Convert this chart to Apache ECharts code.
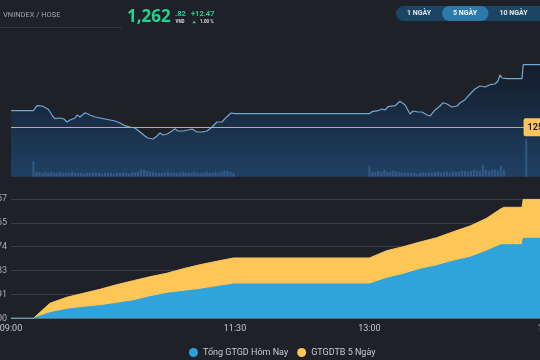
<!DOCTYPE html>
<html>
<head>
<meta charset="utf-8">
<script src="https://cdn.jsdelivr.net/npm/echarts@6/dist/echarts.min.js"></script>
<style>html,body{margin:0;padding:0;background:#1f2128;}#c{width:540px;height:360px;}</style>
</head>
<body>
<div id="c"></div>
<script>
// ---- data ----
const indexName = 'VNINDEX / HOSE';
const lastPriceInt = '1,262';
const lastPriceDec = '.82';
const changeText = '+12.47';
const changePct = '1.00 %';
const refPrice = 1250.35;
const rangeButtons = ['1 NGÀY', '5 NGÀY', '10 NGÀY'];

// price line: minutes after 09:00, index value
const priceTimes = [0,15,17.4,20.8,24.8,27.5,29.5,32.8,35.5,37.5,39.5,42.9,44.2,46.2,49.6,52.9,56.3,59.6,62.9,66.3,69.6,73.0,76.3,79.7,83.0,86.4,89.7,91.7,95.1,97.8,99.8,101.8,104.5,107.8,109.8,111.8,115.2,118.5,121.2,124.6,127.9,131.3,134.6,137.9,141.3,143.9,147.3,150,240,241.7,245.8,248.4,250.4,252.5,257.2,260.5,263.9,267.2,269.2,272.5,275.2,278.6,280.6,283.9,287.3,289.3,291.9,295.3,298.7,300.6,304.0,307.4,310.7,314.1,317.4,320.8,324.1,326.1,327.5,328.8,332.1,342.2,343,360];
const priceValues = [1253.66,1253.66,1254.65,1254.59,1253.99,1252.80,1252.06,1252.20,1252.00,1251.41,1251.80,1252.20,1252.80,1252.40,1253.26,1252.80,1252.40,1252.20,1252.00,1251.80,1251.60,1251.21,1250.67,1250.41,1250.21,1249.41,1248.62,1248.22,1248.02,1248.62,1249.21,1248.82,1249.02,1249.61,1250.07,1249.61,1249.61,1249.81,1250.01,1249.41,1249.41,1249.61,1250.41,1251.41,1251.41,1252.26,1253.20,1253.06,1253.06,1253.46,1253.66,1254.00,1253.80,1254.45,1254.65,1255.53,1254.79,1253.00,1253.60,1253.40,1253.40,1252.80,1252.60,1253.80,1254.59,1255.25,1254.99,1254.39,1254.59,1255.19,1255.85,1256.98,1257.98,1258.58,1258.38,1258.84,1258.98,1259.57,1260.77,1260.17,1260.03,1260.03,1262.82,1262.82];

// volume bars (2-minute bins): morning from 09:15, afternoon from 13:00, plus ATC
const volMorningStart = 15;
const volMorning = [16,5,5,4,5,4,5,4,4,5, 4,4,4,5,4,4,4,3,4,4, 4,4,4,3,4,4,4,3,4,4, 4,4,3,4,4,5,7,7,6,5, 5,4,4,4,4,5,4,4,4,4, 5,4,4,4,5,4,4,4,5,4, 4,5,4,5,6,6,5,4];
const volAfternoonStart = 240;
const volAfternoon = [11,5,5,6,5,7,5,5,6,5, 5,4,4,4,4,4,3,4,4,4, 4,4,5,5,4,5,5,4,5,5, 5,6,6,5,6,7,6,6,12,7, 6,7,7,6,11,7];
const volATC = [345, 38];

// cumulative trading value
const valueTimes = [0,15,26.1,37.3,48.4,59.6,70.8,81.9,93.1,104.3,115.4,126.6,137.7,148.9,150,240,251.6,262.7,273.9,285.1,296.2,307.4,318.5,327.5,330,342.2,343,360];
const todayValue = [0,0,973,1564,1911,2189,2606,3058,3753,4344,4692,5039,5491,5960,5960,5960,6950,7645,8514,9140,9956,10599,11694,12737,12789,12789,13901,13901];
const avg5Value = [0,0,2606,3649,4344,5039,5838,6533,7228,7819,8618,9313,9904,10478,10478,10478,11746,12441,13258,14005,15048,16038,17376,18940,19287,19287,20677,20677];
const seriesNames = ['Tổng GTGD Hôm Nay', 'GTGDTB 5 Ngày'];

// axis ticks
const yTickLabels = ['0.00','4,145.91','8,291.83','12,437.74','16,583.65','20,729.57'];
const yInterval = 4145.914;
const xTickMinutes = [0, 150, 240, 360];
const xTickLabels = ['09:00', '11:30', '13:00', '15:00'];

// ---- build ----
const FONT = 'Roboto, "Noto Sans", sans-serif';
const pricePts = priceTimes.map((t, i) => [t, priceValues[i]]);
const volPts = [];
volMorning.forEach((v, i) => volPts.push([volMorningStart + 2 * i, v]));
volAfternoon.forEach((v, i) => volPts.push([volAfternoonStart + 2 * i, v]));
volPts.push(volATC);
const todayPts = valueTimes.map((t, i) => [t, todayValue[i]]);
const avgPts = valueTimes.map((t, i) => [t, avg5Value[i]]);

const chart = echarts.init(document.getElementById('c'), null, {renderer: 'canvas'});
chart.setOption({
  backgroundColor: '#1f2128',
  animation: false,
  textStyle: {fontFamily: FONT},
  grid: [
    {left: 11, right: -8.6, top: 40, bottom: 183.3, containLabel: false, outerBoundsMode: 'none'},
    {left: 11, right: -8.6, top: 199, bottom: 41.7, containLabel: false, outerBoundsMode: 'none'}
  ],
  xAxis: [
    {type: 'value', gridIndex: 0, min: 0, max: 360, show: false},
    {type: 'value', gridIndex: 1, min: 0, max: 360, interval: 30,
      axisLine: {show: true, lineStyle: {color: '#4a4d56'}},
      axisTick: {show: false},
      splitLine: {show: false},
      axisLabel: {color: '#c3c7cd', fontSize: 9, margin: 6, showMinLabel: true, showMaxLabel: true, hideOverlap: false,
        formatter: v => { const k = xTickMinutes.indexOf(Math.round(v)); return k >= 0 ? xTickLabels[k] : ''; }}
    }
  ],
  yAxis: [
    {type: 'value', gridIndex: 0, min: 1240.51, max: 1267.74, show: false},
    {type: 'value', gridIndex: 0, min: 0, max: 137, show: false},
    {type: 'value', gridIndex: 1, min: 0, max: 20729.57, interval: yInterval,
      axisLine: {show: false}, axisTick: {show: false},
      splitLine: {lineStyle: {color: '#3a3d45', width: 1}},
      axisLabel: {color: '#a9adb5', fontSize: 9, margin: 4,
        formatter: v => yTickLabels[Math.round(v / yInterval)] || ''}
    }
  ],
  legend: {
    left: 184, top: 343, itemWidth: 9, itemHeight: 9, itemGap: 9, icon: 'circle',
    textStyle: {color: '#c8ccd2', fontSize: 9, fontFamily: FONT},
    data: seriesNames
  },
  series: [
    {
      type: 'bar', xAxisIndex: 0, yAxisIndex: 1, data: volPts, barWidth: 2.2,
      itemStyle: {color: 'rgba(72,122,172,0.45)'}, silent: true, z: 3
    },
    {
      type: 'line', xAxisIndex: 0, yAxisIndex: 0, data: pricePts, symbol: 'none', z: 2,
      lineStyle: {color: '#72a8d2', width: 1.2},
      areaStyle: {origin: 'start', color: new echarts.graphic.LinearGradient(0, 0, 0, 1, [
        {offset: 0, color: '#101a29'}, {offset: 1, color: '#1f4e7e'}])},
      markLine: {
        silent: true, symbol: 'none',
        lineStyle: {color: '#cdab68', width: 1, type: 'solid'},
        label: {show: true, position: 'end', distance: -25, formatter: refPrice.toFixed(2),
          backgroundColor: '#fdc55a', color: '#1d1f26', fontWeight: 'bold', fontSize: 9,
          padding: [5, 4, 4, 4], borderRadius: 2},
        data: [{yAxis: refPrice}]
      }
    },
    {
      name: seriesNames[0], type: 'line', xAxisIndex: 1, yAxisIndex: 2, data: todayPts, symbol: 'none', z: 4,
      itemStyle: {color: '#2d9fdd'},
      lineStyle: {color: '#2fa3dc', width: 1},
      areaStyle: {color: '#2fa3dc', opacity: 1}
    },
    {
      name: seriesNames[1], type: 'line', xAxisIndex: 1, yAxisIndex: 2, data: avgPts, symbol: 'none', z: 3,
      itemStyle: {color: '#fec557'},
      lineStyle: {color: '#fec557', width: 1},
      areaStyle: {color: '#fec557', opacity: 1}
    }
  ],
  graphic: [
    {type: 'text', left: 3, top: 11, style: {text: indexName, fill: '#9ea3ab', fontSize: 7.5, fontFamily: FONT}},
    {type: 'rect', shape: {x: 0, y: 27, width: 122, height: 1}, style: {fill: '#33363e'}},
    {type: 'text', x: 127, y: 17, style: {text: lastPriceInt, fill: '#1ed38f', fontSize: 17, fontWeight: 'bold', fontFamily: '"Open Sans", sans-serif', verticalAlign: 'middle'}},
    {type: 'text', x: 175, y: 14.5, style: {text: lastPriceDec, fill: '#1ed38f', fontSize: 7.5, fontWeight: 'bold', fontFamily: FONT, verticalAlign: 'middle'}},
    {type: 'text', x: 175.5, y: 22, style: {text: 'VND', fill: '#d8dbe0', fontSize: 4.5, fontWeight: 'bold', fontFamily: FONT, verticalAlign: 'middle'}},
    {type: 'text', x: 191, y: 14.5, style: {text: changeText, fill: '#1ed38f', fontSize: 7.5, fontWeight: 'bold', fontFamily: FONT, verticalAlign: 'middle'}},
    {type: 'polygon', shape: {points: [[192.3, 23.3], [196, 23.3], [194.15, 20.8]]}, style: {fill: '#1ed38f'}},
    {type: 'text', x: 200, y: 22, style: {text: changePct, fill: '#d8dbe0', fontSize: 4.5, fontWeight: 'bold', fontFamily: FONT, verticalAlign: 'middle'}},
    {type: 'rect', shape: {x: 396, y: 6, width: 160, height: 15, r: 7.5}, style: {fill: '#1c4463'}},
    {type: 'rect', shape: {x: 442, y: 6, width: 46.5, height: 15, r: 7.5}, style: {fill: '#2b7aaa'}},
    {type: 'text', x: 419, y: 13.7, style: {text: rangeButtons[0], fill: '#dfe6ee', fontSize: 7, fontWeight: 'bold', fontFamily: FONT, align: 'center', verticalAlign: 'middle'}},
    {type: 'text', x: 465, y: 13.7, style: {text: rangeButtons[1], fill: '#eef3f8', fontSize: 7, fontWeight: 'bold', fontFamily: FONT, align: 'center', verticalAlign: 'middle'}},
    {type: 'text', x: 513.5, y: 13.7, style: {text: rangeButtons[2], fill: '#dfe6ee', fontSize: 7, fontWeight: 'bold', fontFamily: FONT, align: 'center', verticalAlign: 'middle'}}
  ]
});
</script>
</body>
</html>
